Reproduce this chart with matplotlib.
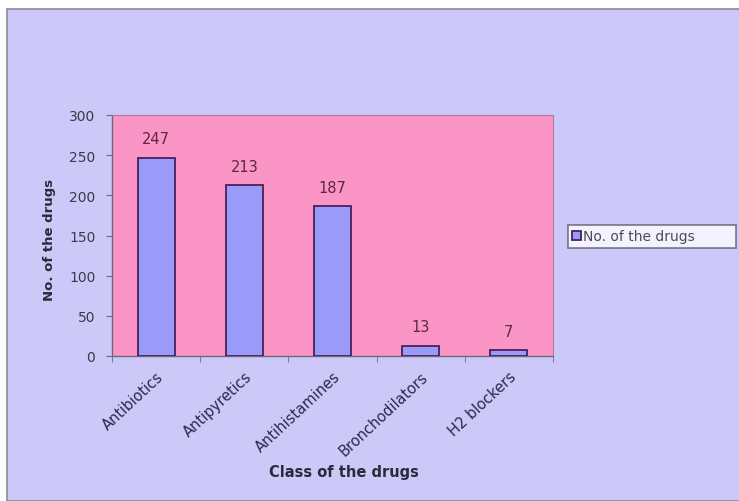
import matplotlib.pyplot as plt
import numpy as np
from matplotlib.patches import Rectangle

# Données
classes = ["Antibiotics", "Antipyretics", "Antihistamines", "Bronchodilators", "H2 blockers"]
counts = [247, 213, 187, 13, 7]

fig = plt.figure(figsize=(7.39, 5.02), dpi=100)
fig.patch.set_facecolor("white")

# Fond violet façon Excel
fig.patches.append(Rectangle((7 / 739, 0), 1, 492 / 502, transform=fig.transFigure,
                             facecolor="#ccc8f8", edgecolor="#8a8a9a", linewidth=1.2, zorder=-5))

ax = fig.add_axes([112 / 739, 145 / 502, 441 / 739, 241 / 502])
ax.set_facecolor("#fa95c6")

x = np.arange(len(classes))
bars = ax.bar(x, counts, width=0.42, color="#9a9af8", edgecolor="#4a2058", linewidth=1.3,
              label="No. of the drugs", zorder=3)

for xi, v in zip(x, counts):
    ax.text(xi, v + 14, str(v), ha="center", va="bottom", fontsize=10.5, color="#5a2844")

ax.set_xlim(-0.5, len(classes) - 0.5)
ax.set_ylim(0, 300)
ax.set_yticks(range(0, 301, 50))
ax.set_xticks(x)
ax.set_xticklabels(classes, rotation=43, ha="right", rotation_mode="anchor", fontsize=10.5,
                   color="#2a2a4a")
ax.tick_params(axis="x", length=0, pad=9)
ax.set_xticks(np.arange(-0.5, len(classes)), minor=True)
ax.tick_params(axis="x", which="minor", length=4, color="#6a6a7a")
ax.tick_params(axis="y", labelsize=10, labelcolor="#3a3a4a", length=4, color="#6a6a7a", pad=8)

for s in ["top", "right"]:
    ax.spines[s].set_color("#b07aa0")
    ax.spines[s].set_linewidth(0.8)
for s in ["left", "bottom"]:
    ax.spines[s].set_color("#6a6a7a")
    ax.spines[s].set_linewidth(1.0)

ax.set_ylabel("No. of the drugs", fontsize=9.5, fontweight="bold", color="#2a2a3a")
ax.yaxis.set_label_coords(-0.128, 0.485)
ax.set_xlabel("Class of the drugs", fontsize=10.5, fontweight="bold", color="#2a2a3a")
ax.xaxis.set_label_coords(0.525, -0.45)

leg = fig.legend(handles=[bars], labels=["No. of the drugs"], loc="center left",
                 bbox_to_anchor=(568 / 739, 1 - 250 / 502, 168 / 739, 25 / 502), mode="expand",
                 fontsize=10, frameon=True, fancybox=False, handlelength=0.6, handleheight=0.6,
                 handletextpad=0.2, borderpad=0.3, borderaxespad=0)
leg.get_frame().set_edgecolor("#5a5a6a")
leg.get_frame().set_facecolor("white")
leg.get_frame().set_linewidth(1.2)
for t in leg.get_texts():
    t.set_color("#4a4a5a")

fig.savefig("out.png", dpi=100)
